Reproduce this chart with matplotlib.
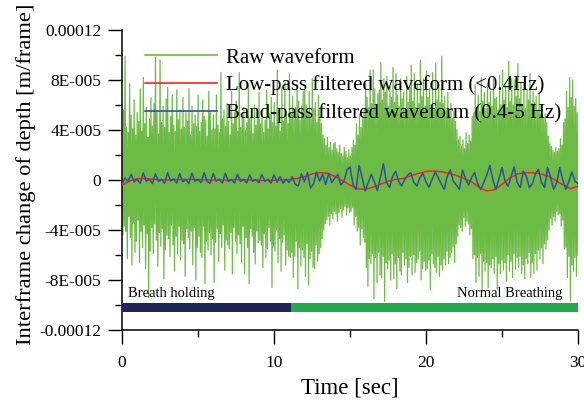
import numpy as np
import matplotlib
matplotlib.use("Agg")
import matplotlib.pyplot as plt

plt.rcParams['font.family'] = ['Liberation Serif', 'DejaVu Serif']

# ---------------- data ----------------
# Raw waveform (units of 1e-5 m/frame), 20 samples per second, one row per second
raw_e5 = [
    2.1, -4.4, 5.6, -3.7, 9.9, -4.1, 4.2, -6.3, 3.8, -2.9, 7.7, -4.6, 5.2, -6.8, 4.1, -3.4, 6.4, -5.8, 3.6, -4.9,
    5.4, -3.2, 4.7, -6.6, 7.3, -4.1, 3.9, -5.4, 8.2, -3.6, 4.5, -7.1, 5.8, -4.3, 3.4, -9.4, 4.9, -5.7, 6.6, -3.8,
    4.3, -5.9, 6.1, -3.5, 9.8, -4.8, 5.5, -6.9, 3.7, -4.2, 9.6, -5.3, 4.6, -3.9, 5.9, -7.9, 4.2, -5.6, 6.5, -4.4,
    7.4, -4.7, 3.8, -6.1, 5.1, -3.6, 6.8, -5.2, 4.4, -7.3, 3.9, -4.5, 7.2, -5.9, 4.8, -3.7, 5.6, -6.4, 4.1, -4.8,
    6.6, -5.1, 4.2, -7.7, 5.4, -3.9, 4.7, -4.6, 7.3, -5.5, 3.6, -4.1, 5.9, -6.8, 4.5, -3.8, 5.2, -8.0, 4.3, -5.4,
    6.8, -4.5, 3.9, -5.8, 4.6, -6.2, 6.4, -3.7, 5.1, -8.3, 4.8, -4.9, 3.5, -5.6, 7.1, -4.2, 5.4, -6.0, 4.0, -4.7,
    5.2, -8.2, 4.1, -5.0, 6.8, -3.9, 4.4, -6.5, 3.8, -4.3, 8.6, -5.4, 4.9, -3.6, 5.6, -7.2, 4.3, -4.8, 6.1, -5.2,
    4.7, -5.5, 3.6, -4.2, 7.1, -7.5, 4.5, -3.8, 5.4, -4.9, 6.3, -5.9, 3.9, -4.4, 8.6, -5.1, 4.2, -6.6, 5.0, -3.7,
    5.8, -7.5, 4.0, -4.6, 4.6, -5.4, 7.7, -8.3, 4.9, -3.9, 5.1, -4.5, 3.7, -5.8, 6.0, -6.7, 4.4, -4.1, 5.5, -5.0,
    7.0, -4.8, 4.5, -5.2, 5.5, -7.0, 3.8, -4.3, 4.8, -6.2, 7.2, -5.5, 4.1, -3.8, 5.3, -4.9, 6.6, -8.6, 4.6, -5.3,
    6.2, -5.7, 4.3, -4.0, 8.8, -6.6, 5.6, -4.7, 3.9, -7.3, 7.4, -5.0, 4.7, -4.4, 7.8, -6.8, 5.2, -5.6, 4.5, -6.1,
    8.5, -6.2, 5.4, -5.8, 6.7, -7.8, 4.9, -6.1, 5.8, -4.9, 7.6, -8.7, 6.3, -5.4, 4.8, -6.9, 5.9, -5.6, 7.1, -6.2,
    7.2, -7.7, 6.0, -5.1, 5.3, -8.4, 7.1, -6.3, 4.9, -5.7, 8.1, -7.0, 5.7, -7.1, 6.2, -5.2, 4.6, -6.5, 6.8, -5.9,
    5.8, -5.4, 4.5, -4.7, 3.6, -4.0, 3.3, -3.5, 2.8, -3.2, 3.4, -2.9, 2.6, -3.6, 3.0, -2.7, 2.4, -3.1, 2.9, -2.5,
    3.0, -2.7, 2.5, -3.3, 2.2, -2.6, 2.8, -2.3, 2.1, -3.0, 1.9, -2.4, 2.6, -2.1, 2.3, -2.8, 1.8, -2.2, 2.4, -2.6,
    1.9, -2.5, 2.6, -2.2, 3.2, -3.6, 2.8, -2.9, 4.5, -4.1, 3.6, -3.8, 5.3, -5.2, 4.2, -3.9, 4.9, -4.6, 5.6, -5.0,
    7.7, -7.0, 6.6, -8.5, 5.8, -6.3, 8.8, -6.7, 6.1, -5.9, 8.8, -9.5, 7.3, -6.2, 5.7, -8.2, 6.9, -5.8, 7.2, -7.6,
    9.4, -7.8, 6.4, -6.1, 8.1, -9.7, 7.0, -6.6, 8.3, -7.1, 5.9, -6.4, 7.5, -8.0, 6.6, -5.9, 9.0, -7.9, 6.2, -6.7,
    8.5, -8.7, 6.8, -6.2, 5.9, -7.3, 8.1, -7.6, 6.5, -5.8, 7.0, -6.8, 5.6, -6.3, 8.3, -8.2, 6.2, -7.0, 7.4, -6.1,
    9.2, -7.6, 6.3, -6.0, 8.5, -7.4, 5.8, -6.6, 7.7, -6.3, 6.1, -5.7, 9.6, -8.0, 6.7, -7.1, 8.1, -6.5, 5.9, -7.2,
    8.7, -7.1, 6.6, -6.4, 7.3, -8.8, 6.0, -5.9, 8.6, -6.7, 5.7, -7.0, 9.3, -7.4, 6.4, -6.1, 7.8, -7.7, 6.2, -6.8,
    9.9, -7.2, 6.1, -6.3, 6.7, -6.8, 5.6, -5.7, 7.0, -6.7, 5.2, -6.2, 6.1, -5.8, 4.9, -5.3, 5.5, -6.6, 4.7, -5.1,
    4.0, -4.5, 3.2, -3.6, 3.5, -3.8, 2.7, -4.1, 3.2, -3.0, 2.5, -3.7, 3.8, -3.3, 2.9, -3.5, 3.6, -4.4, 3.1, -3.9,
    5.1, -6.3, 5.4, -6.0, 7.6, -8.2, 5.8, -6.2, 6.8, -7.7, 5.5, -5.9, 8.2, -9.0, 6.3, -6.5, 7.0, -7.3, 5.7, -6.6,
    7.7, -8.6, 6.2, -6.8, 7.1, -7.0, 5.9, -6.3, 8.3, -7.5, 6.5, -6.1, 6.6, -8.8, 5.6, -6.7, 8.4, -7.5, 6.0, -6.4,
    8.8, -7.2, 6.4, -6.6, 7.5, -8.1, 5.8, -6.0, 9.5, -7.3, 6.3, -6.5, 8.1, -7.8, 6.0, -5.9, 8.0, -7.1, 6.7, -6.2,
    9.3, -7.0, 6.5, -6.1, 7.8, -7.5, 6.0, -6.8, 7.7, -7.9, 5.7, -6.3, 7.2, -6.7, 6.4, -5.8, 8.5, -7.8, 6.1, -6.6,
    7.1, -7.5, 6.2, -5.9, 6.7, -7.2, 5.5, -5.6, 7.0, -6.3, 5.2, -5.4, 5.8, -6.7, 4.9, -5.1, 5.3, -5.5, 4.6, -4.8,
    3.5, -4.0, 2.9, -3.1, 2.7, -3.6, 2.4, -2.9, 2.2, -3.3, 2.6, -2.5, 2.3, -2.8, 2.5, -2.7, 3.3, -3.7, 2.8, -3.2,
    4.6, -5.5, 4.9, -5.4, 7.1, -7.8, 5.8, -6.1, 8.2, -9.7, 6.6, -6.8, 8.0, -7.3, 5.9, -6.2, 6.5, -7.7, 5.4, -6.0,
]

# Low-pass filtered waveform (units of 1e-6), every 0.5 s from 0 to 30 s
lowpass_e6 = [
    -4.0, -0.8, 1.0, 1.2, 0.6, 0.2, 0.0, 0.2, 0.5, 0.5,
    0.3, 0.1, 0.0, -0.1, 0.0, 0.4, 0.3, 0.0, -0.3, -0.4,
    -0.3, 0.0, 0.4, 1.2, 2.6, 4.8, 5.9, 5.4, 3.0, -0.5,
    -4.0, -7.0, -7.4, -5.8, -3.5, -1.0, 0.5, 1.2, 3.3, 5.3,
    6.8, 7.2, 6.6, 5.4, 3.6, 1.2, -1.5, -5.8, -8.8, -7.8,
    -3.5, 1.5, 4.8, 5.8, 5.8, 5.0, 3.2, 0.0, -3.8, -7.0,
    -5.0,
]

# Band-pass filtered waveform (units of 1e-6), every 0.2 s from 0 to 30 s
bandpass_e6 = [
    -3.0, 1.5, -1.0, 4.5, -1.5, 0.5, -2.5, 5.8, -1.0, 0.8,
    -2.8, 5.0, -1.2, 0.6, -2.6, 5.8, -0.8, 1.0, -2.4, 5.3,
    -1.4, 0.4, -2.8, 5.4, -1.0, 0.6, -2.2, 5.8, -1.2, -2.6,
    5.2, -1.0, 0.8, -2.4, 5.3, -1.3, 0.5, -2.5, 4.6, -1.1,
    0.4, -2.3, 4.0, -1.0, 0.5, -2.2, 4.4, -0.9, 0.6, -2.5,
    4.1, -1.6, 2.8, -2.6, 0.5, -2.0, 2.7, -3.5, -4.8, 5.0,
    -1.5, 5.9, -6.5, -3.0, 6.4, -1.0, 4.5, -3.5, 5.3, -2.0,
    1.5, 4.5, -4.0, -1.0, 8.0, 10.5, -4.0, -7.5, 11.5, 2.0,
    -8.8, -2.0, 4.5, -1.5, -8.5, 2.0, 13.0, -2.0, -6.0, 3.0,
    7.0, -1.0, -4.8, 0.5, 4.0, 5.9, -2.0, -4.8, 2.0, 5.3,
    -1.5, -5.8, 0.5, 6.4, 2.0, -3.0, -7.5, 3.0, 8.0, -1.0,
    -4.0, -7.5, 8.0, 1.0, -4.0, 2.0, 6.0, -3.0, -7.5, -2.0,
    4.0, 11.7, 0.0, -7.5, 1.0, 9.9, -1.0, -5.0, 3.0, 10.5,
    -2.0, -6.0, 7.0, 3.0, -6.0, -3.0, 5.0, 8.5, -2.0, -6.0,
    9.9, 2.0, -7.5, -2.0, 9.9, 0.0, -7.5, -1.0, 6.4, -1.0,
    -3.0,
]

legend_labels = ["Raw waveform",
                 "Low-pass filtered waveform (<0.4Hz)",
                 "Band-pass filtered waveform (0.4-5 Hz)"]
series_colors = ["#6dbb45", "#ff2020", "#2f4fa3"]

phase_labels = ["Breath holding", "Normal Breathing"]
phase_start = [0.0, 11.1]
phase_end = [11.1, 30.0]
phase_colors = ["#1e2559", "#22a84f"]
phase_level = -1.02e-4

x_ticks = [0, 10, 20, 30]
y_ticks = [-1.2e-4, -8e-5, -4e-5, 0, 4e-5, 8e-5, 1.2e-4]
y_ticklabels = ["-0.00012", "-8E-005", "-4E-005", "0", "4E-005", "8E-005", "0.00012"]

# ---------------- plot ----------------
raw = np.array(raw_e5) * 1e-5
lowpass = np.array(lowpass_e6) * 1e-6
bandpass = np.array(bandpass_e6) * 1e-6
t_raw = np.linspace(0, 30, len(raw))
t_low = np.linspace(0, 30, len(lowpass))
t_band = np.linspace(0, 30, len(bandpass))

fig = plt.figure(figsize=(5.84, 4.01), dpi=100)
ax = fig.add_axes([122 / 584, 1 - 330 / 401, (578 - 122) / 584, 300 / 401])

ax.plot(t_raw, raw, color=series_colors[0], lw=0.9, label=legend_labels[0], zorder=2)
ax.plot(t_low, lowpass, color=series_colors[1], lw=1.1, label=legend_labels[1], zorder=3)
ax.plot(t_band, bandpass, color=series_colors[2], lw=1.1, label=legend_labels[2], zorder=4)

bar_h = 7.2e-6
for s, e, c in zip(phase_start, phase_end, phase_colors):
    ax.broken_barh([(s, e - s)], (phase_level - bar_h / 2, bar_h), facecolors=c, zorder=5)

ax.text(0.4, -9.4e-5, phase_labels[0], fontsize=10.5, ha='left', va='baseline', zorder=6)
ax.text(29.0, -9.4e-5, phase_labels[1], fontsize=10.5, ha='right', va='baseline', zorder=6)

ax.set_xlim(0, 30)
ax.set_ylim(-1.2e-4, 1.2e-4)
ax.set_xticks(x_ticks)
ax.set_xticks([5, 15, 25], minor=True)
ax.set_yticks(y_ticks)
ax.set_yticklabels(y_ticklabels)
ax.set_yticks([-1e-4, -6e-5, -2e-5, 2e-5, 6e-5, 1e-4], minor=True)
ax.tick_params(which='major', direction='out', length=10, width=1, labelsize=12.5, pad=5)
ax.tick_params(axis='x', which='major', pad=8)
ax.tick_params(which='minor', direction='out', length=5, width=1)

for side in ['top', 'right']:
    ax.spines[side].set_visible(False)
for side in ['left', 'bottom']:
    ax.spines[side].set_linewidth(1.1)

ax.set_xlabel("Time [sec]", fontsize=16.5, labelpad=5)
ax.set_ylabel("Interframe change of depth [m/frame]", fontsize=16.2)
ax.yaxis.set_label_coords((36 - 122) / 456, 0.52)

leg = ax.legend(loc='upper left', bbox_to_anchor=(145 / 584, 1 - 48 / 401),
                bbox_transform=fig.transFigure, frameon=False, fontsize=15,
                handlelength=3.45, handletextpad=0.45, labelspacing=0.37,
                borderpad=0, borderaxespad=0)
for line in leg.get_lines():
    line.set_linewidth(1.2)
leg.set_zorder(10)

fig.savefig("out.png", dpi=100)
